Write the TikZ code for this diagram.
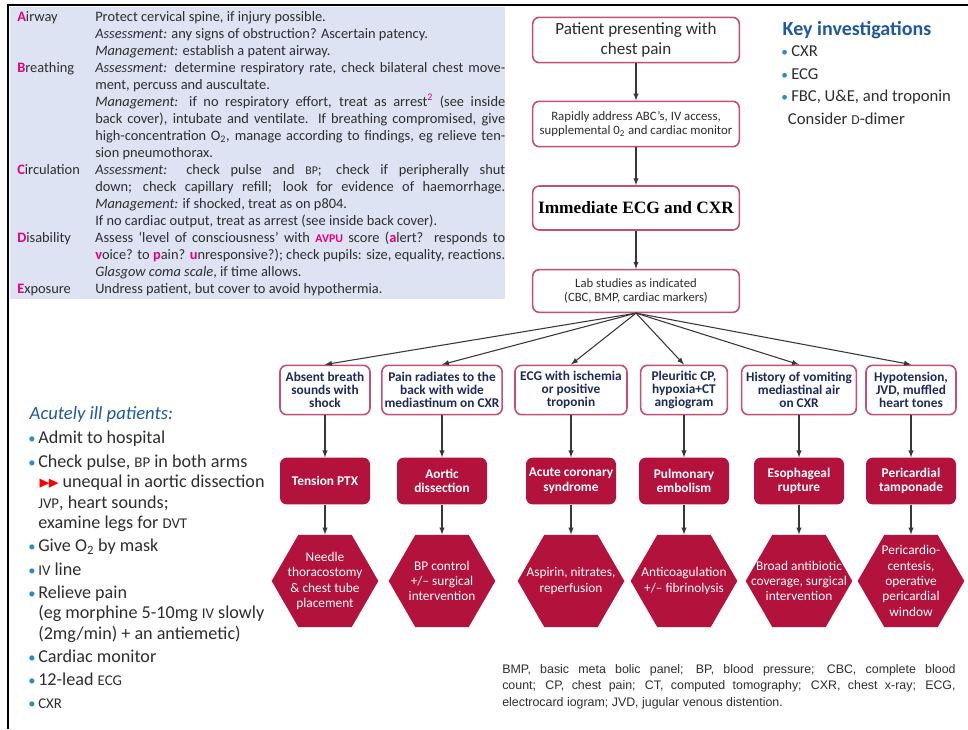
\documentclass[tikz,border=0pt]{standalone}
\usepackage{fontspec}
\setmainfont{Carlito}
\newfontfamily\serifbf{Liberation Serif}
\newfontfamily\notefont{Liberation Sans}
\usepackage{amssymb}
\usetikzlibrary{shapes, positioning, arrows}

\definecolor{abcblue}{RGB}{221,227,242}
\definecolor{abcpink}{RGB}{228,0,124}
\definecolor{boxpink}{RGB}{196,78,118}
\definecolor{crimson}{RGB}{178,18,60}
\definecolor{navy}{RGB}{28,42,92}
\definecolor{keyblue}{RGB}{30,88,160}
\definecolor{bulblue}{RGB}{38,140,205}
\definecolor{txtgray}{RGB}{45,45,45}
\definecolor{arrgray}{RGB}{55,55,55}

\newlength{\bulw}
\setlength{\bulw}{7.5pt}
\newcommand{\lbl}[2]{{\color{abcpink}\bfseries #1}#2}
\newcommand{\pk}[1]{{\color{abcpink}\bfseries #1}}
\newcommand{\smc}[1]{\scalebox{0.82}{#1}}
\newcommand{\jline}[2]{\makebox[58.5pt][l]{#1}\makebox[307.5pt][s]{#2}}
\newcommand{\rline}[2]{\makebox[58.5pt][l]{#1}\makebox[307.5pt][l]{#2}}
\newcommand{\lbul}{\makebox[\bulw][l]{\textcolor{bulblue}{\scalebox{0.8}{\textbullet}}}}

\tikzset{
	flowbox/.style={
		draw=boxpink,
		line width=1.2pt,
		rounded corners=5pt,
		fill=white,
		align=center,
		text=txtgray,
		inner sep=2pt,
		minimum width=155pt,
		minimum height=34pt
	},
	findbox/.style={
		flowbox,
		text=navy,
		font=\fontsize{10}{9.6}\selectfont\bfseries,
		minimum height=37pt
	},
	dxbox/.style={
		fill=crimson,
		rounded corners=5pt,
		text=white,
		align=center,
		font=\fontsize{10}{11}\selectfont\bfseries,
		minimum width=67.5pt,
		minimum height=35pt,
		inner sep=1pt
	},
	txhex/.style={
		regular polygon,
		regular polygon sides=6,
		minimum size=80pt,
		fill=crimson,
		inner sep=0pt
	},
	hextxt/.style={
		text=white,
		align=center,
		font=\fontsize{10}{11.5}\selectfont,
		inner sep=0pt
	},
	arr/.style={
		->,
		>=latex,
		draw=arrgray,
		line width=0.8pt
	}
}

\begin{document}
\begin{tikzpicture}[x=0.75pt, y=-0.75pt]
		\useasboundingbox (0,0) rectangle (968,729);
		% ABCDE panel
		\fill[abcblue] (10,7) rectangle (505,299);
		\draw[line width=2.2pt] (8,729) -- (8,5) -- (968,5);
		\node[anchor=north west, inner sep=0pt, align=left, text=txtgray, font=\fontsize{10.8}{12.75}\selectfont] (abcde) at (17,11) {
			\rline{\lbl{A}{irway}}{Protect cervical spine, if injury possible.}\\
			\rline{}{\emph{Assessment:} any signs of obstruction? Ascertain patency.}\\
			\rline{}{\emph{Management:} establish a patent airway.}\\
			\jline{\lbl{B}{reathing}}{\emph{Assessment:} determine respiratory rate, check bilateral chest move-}\\
			\rline{}{ment, percuss and auscultate.}\\
			\jline{}{\emph{Management:} if no respiratory effort, treat as arrest\textsuperscript{\color{abcpink}2} (see inside}\\
			\jline{}{back cover), intubate and ventilate. If breathing compromised, give}\\
			\jline{}{high-concentration O\textsubscript{2}, manage according to findings, eg relieve ten-}\\
			\rline{}{sion pneumothorax.}\\
			\jline{\lbl{C}{irculation}}{\emph{Assessment:} check pulse and \smc{BP}; check if peripherally shut}\\
			\jline{}{down; check capillary refill; look for evidence of haemorrhage.}\\
			\rline{}{\emph{Management:} if shocked, treat as on p804.}\\
			\rline{}{If no cardiac output, treat as arrest (see inside back cover).}\\
			\jline{\lbl{D}{isability}}{Assess `level of consciousness' with \pk{\smc{AVPU}} score (\pk{a}lert? responds to}\\
			\jline{}{\pk{v}oice? to \pk{p}ain? \pk{u}nresponsive?); check pupils: size, equality, reactions.}\\
			\rline{}{\emph{Glasgow coma scale}, if time allows.}\\
			\rline{\lbl{E}{xposure}}{Undress patient, but cover to avoid hypothermia.}
		};
		
		% key investigations
		\node[anchor=west, text=keyblue, font=\fontsize{15}{17}\selectfont\bfseries] (keyt) at (778,30) {Key investigations};
		\node[anchor=north west, inner sep=0pt, align=left, text=txtgray, font=\fontsize{12.5}{17.2}\selectfont] (keyl) at (781,45) {
			\lbul CXR\\
			\lbul ECG\\
			\lbul FBC, U\&E, and troponin\\
			\hspace*{5pt}Consider \smc{D}-dimer
		};
		
		% acutely ill patients
		\node[anchor=west, text=keyblue, font=\fontsize{14}{16}\selectfont\itshape] (acute) at (25,415) {Acutely ill patients:};
		\node[anchor=north west, inner sep=0pt, align=left, text=txtgray, font=\fontsize{13.6}{15.4}\selectfont] (care) at (28,431) {
			\lbul Admit to hospital\\[2pt]
			\lbul Check pulse, \smc{BP} in both arms\\
			\hspace*{\bulw}\textcolor{red}{\scalebox{0.85}{$\blacktriangleright\!\blacktriangleright$}}\,unequal in aortic dissection\\
			\hspace*{\bulw}\smc{JVP}, heart sounds;\\
			\hspace*{\bulw}examine legs for \smc{DVT}\\[2pt]
			\lbul Give O\textsubscript{2} by mask\\[2pt]
			\lbul \smc{IV} line\\[2pt]
			\lbul Relieve pain\\
			\hspace*{\bulw}(eg morphine 5-10mg \smc{IV} slowly\\
			\hspace*{\bulw}(2mg/min) + an antiemetic)\\[2pt]
			\lbul Cardiac monitor\\[2pt]
			\lbul 12-lead \smc{ECG}\\[2pt]
			\lbul \smc{CXR}
		};
		
		% main flow
		\node[flowbox, font=\fontsize{12.8}{15}\selectfont] (pat) at (636,40) {Patient presenting with\\chest pain};
		\node[flowbox, font=\fontsize{9.6}{10.5}\selectfont] (abc) at (636,124) {Rapidly address ABC's, IV access,\\supplemental 0\textsubscript{2} and cardiac monitor};
		\node[flowbox, minimum height=33pt, text=black, font=\serifbf\bfseries\fontsize{13}{15}\selectfont] (ecg) at (636,208) {Immediate ECG and CXR};
		\node[flowbox, minimum height=32pt, font=\fontsize{9.5}{11.2}\selectfont] (lab) at (636,291) {Lab studies as indicated\\(CBC, BMP, cardiac markers)};
		\draw[arr] (pat) -- (abc);
		\draw[arr] (abc) -- (ecg);
		\draw[arr] (ecg) -- (lab);
		
		% findings
		\node[findbox, minimum width=67.5pt] (f1) at (325,390) {Absent breath\\sounds with\\shock};
		\node[findbox, minimum width=90pt] (f2) at (442,390) {Pain radiates to the\\back with wide\\mediastinum on CXR};
		\node[findbox, minimum width=84pt] (f3) at (571,390) {ECG with ischemia\\or positive\\troponin};
		\node[findbox, minimum width=65pt] (f4) at (684,390) {Pleuritic CP,\\hypoxia+CT\\angiogram};
		\node[findbox, minimum width=86pt] (f5) at (799,390) {History of vomiting\\mediastinal air\\on CXR};
		\node[findbox, minimum width=67.5pt] (f6) at (911,390) {Hypotension,\\JVD, muffled\\heart tones};
		\draw[arr] (lab.south) -- (f1.north);
		\draw[arr] (lab.south) -- (f2.north);
		\draw[arr] (lab.south) -- (f3.north);
		\draw[arr] (lab.south) -- (f4.north);
		\draw[arr] (lab.south) -- (f5.north);
		\draw[arr] (lab.south) -- (f6.north);
		
		% diagnoses
		\node[dxbox] (d1) at (325,481) {Tension PTX};
		\node[dxbox] (d2) at (442,481) {Aortic\\dissection};
		\node[dxbox] (d3) at (571,481) {Acute coronary\\syndrome};
		\node[dxbox] (d4) at (684,481) {Pulmonary\\embolism};
		\node[dxbox] (d5) at (799,481) {Esophageal\\rupture};
		\node[dxbox] (d6) at (911,481) {Pericardial\\tamponade};
		\draw[arr] (f1) -- (d1);
		\draw[arr] (f2) -- (d2);
		\draw[arr] (f3) -- (d3);
		\draw[arr] (f4) -- (d4);
		\draw[arr] (f5) -- (d5);
		\draw[arr] (f6) -- (d6);
		
		% treatments
		\node[txhex] (t1) at (325,581) {};
		\node[txhex] (t2) at (442,581) {};
		\node[txhex] (t3) at (571,581) {};
		\node[txhex] (t4) at (684,581) {};
		\node[txhex] (t5) at (799,581) {};
		\node[txhex] (t6) at (911,581) {};
		\node[hextxt] (t1x) at (t1) {Needle\\thoracostomy\\\& chest tube\\placement};
		\node[hextxt] (t2x) at (t2) {BP control\\+/-- surgical\\intervention};
		\node[hextxt] (t3x) at (t3) {Aspirin, nitrates,\\reperfusion};
		\node[hextxt] (t4x) at (t4) {Anticoagulation\\+/-- fibrinolysis};
		\node[hextxt] (t5x) at (t5) {Broad antibiotic\\coverage, surgical\\intervention};
		\node[hextxt] (t6x) at (t6) {Pericardio-\\centesis,\\operative\\pericardial\\window};
		\draw[arr] (d1) -- (t1);
		\draw[arr] (d2) -- (t2);
		\draw[arr] (d3) -- (t3);
		\draw[arr] (d4) -- (t4);
		\draw[arr] (d5) -- (t5);
		\draw[arr] (d6) -- (t6);
		
		% abbreviations
		\node[anchor=north west, inner sep=0pt, align=left, text=txtgray, font=\notefont\fontsize{9.3}{12.4}\selectfont] (abbr) at (502,664) {
			\makebox[340pt][s]{BMP, basic meta bolic panel; BP, blood pressure; CBC, complete blood}\\
			\makebox[340pt][s]{count; CP, chest pain; CT, computed tomography; CXR, chest x-ray; ECG,}\\
			electrocard iogram; JVD, jugular venous distention.
		};
\end{tikzpicture}
\end{document}
